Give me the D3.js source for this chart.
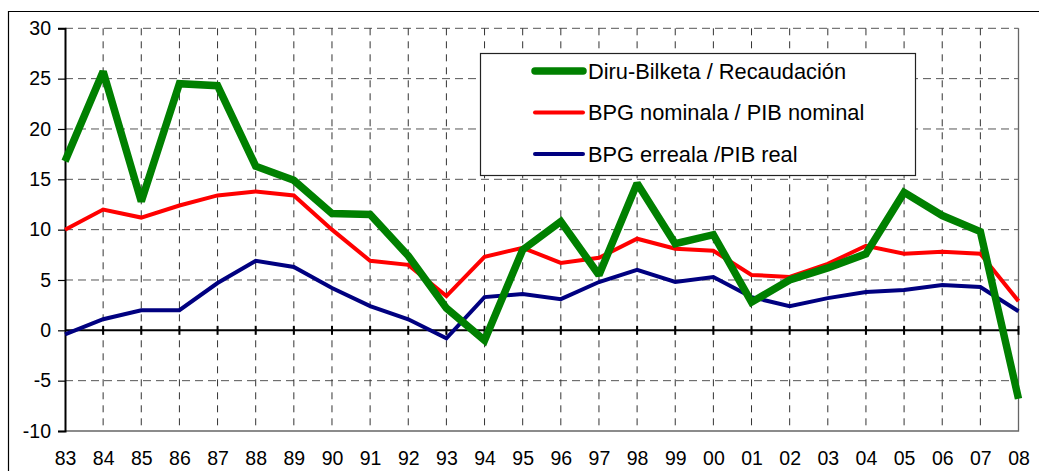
<!DOCTYPE html>
<html>
<head>
<meta charset="utf-8">
<script src="https://cdn.jsdelivr.net/npm/d3@7"></script>
<style>
  html, body { margin: 0; padding: 0; background: #fff; }
  svg { display: block; font-family: Arial, "Liberation Sans", sans-serif; }
</style>
</head>
<body>
<svg id="chart" width="1039" height="471"></svg>
<script>
// Year labels along the x axis
const years = ["83","84","85","86","87","88","89","90","91","92","93","94","95","96","97","98","99","00","01","02","03","04","05","06","07","08"];

// Annual growth rates (%)
const recaudacion = [16.8, 25.7, 12.8, 24.5, 24.3, 16.3, 14.9, 11.6, 11.5, 7.4, 2.2, -1.0, 8.0, 10.8, 5.5, 14.6, 8.6, 9.5, 2.8, 5.0, 6.2, 7.6, 13.7, 11.4, 9.8, -6.8];
const pibNominal  = [10.0, 12.0, 11.2, 12.4, 13.4, 13.8, 13.4, 10.0, 6.9, 6.5, 3.4, 7.3, 8.2, 6.7, 7.2, 9.1, 8.1, 7.9, 5.5, 5.3, 6.6, 8.4, 7.6, 7.8, 7.6, 2.9];
const pibReal     = [-0.4, 1.1, 2.0, 2.0, 4.7, 6.9, 6.3, 4.2, 2.4, 1.1, -0.8, 3.3, 3.6, 3.1, 4.8, 6.0, 4.8, 5.3, 3.3, 2.4, 3.2, 3.8, 4.0, 4.5, 4.3, 1.9];

const yTicks = [30, 25, 20, 15, 10, 5, 0, -5, -10];

const seriesNames = ["Diru-Bilketa / Recaudación", "BPG nominala / PIB nominal", "BPG erreala /PIB real"];

const series = [
  { name: seriesNames[0], values: recaudacion, color: "#008000", width: 7.5 },
  { name: seriesNames[1], values: pibNominal,  color: "#ff0000", width: 4 },
  { name: seriesNames[2], values: pibReal,     color: "#000080", width: 4 }
];

const svg = d3.select("#chart");
const W = 1039, H = 471;
const plot = { left: 65, right: 1018.5, top: 28.3, bottom: 431 };
const labelFont = "Arial, 'Liberation Sans', sans-serif";

const x = d3.scalePoint().domain(years).range([plot.left, plot.right]);
const y = d3.scaleLinear().domain([-10, 30]).range([plot.bottom, plot.top]);

// Outer chart frame (left and top edges visible)
svg.append("path")
  .attr("d", `M8.5,${H} V11.5 H${W}`)
  .attr("fill", "none").attr("stroke", "#000").attr("stroke-width", 1.2);

// Horizontal dashed gridlines
svg.append("g").selectAll("line")
  .data(yTicks.filter(d => d !== 0 && d !== -10))
  .join("line")
  .attr("x1", plot.left).attr("x2", plot.right)
  .attr("y1", d => y(d)).attr("y2", d => y(d))
  .attr("stroke", "#555").attr("stroke-width", 1)
  .attr("stroke-dasharray", "8,5");

// Vertical dashed gridlines
svg.append("g").selectAll("line")
  .data(years.slice(1, -1))
  .join("line")
  .attr("x1", d => x(d)).attr("x2", d => x(d))
  .attr("y1", plot.top).attr("y2", plot.bottom)
  .attr("stroke", "#333").attr("stroke-width", 1)
  .attr("stroke-dasharray", "7,6");

// Plot area right and bottom borders
svg.append("path")
  .attr("d", `M${plot.right},${plot.top} V${plot.bottom} H${plot.left}`)
  .attr("fill", "none").attr("stroke", "#666").attr("stroke-width", 1.3);

// Y axis with ticks on the left (plain hyphen for negatives)
const yAxis = d3.axisLeft(y).tickValues(yTicks).tickSize(7).tickPadding(7).tickFormat(d => String(d));
const gy = svg.append("g").attr("transform", `translate(${plot.left},0)`).call(yAxis);
gy.select(".domain").attr("stroke", "#000").attr("stroke-width", 2);
gy.selectAll(".tick line").attr("stroke", "#000").attr("stroke-width", 1.2);
gy.selectAll(".tick text").attr("font-size", 19.5).attr("fill", "#000")
  .attr("font-family", labelFont);

// Zero line with category ticks crossing it
svg.append("line")
  .attr("x1", plot.left).attr("x2", plot.right)
  .attr("y1", y(0)).attr("y2", y(0))
  .attr("stroke", "#000").attr("stroke-width", 2);
svg.append("g").selectAll("line")
  .data(years.slice(1))
  .join("line")
  .attr("x1", d => x(d)).attr("x2", d => x(d))
  .attr("y1", y(0) - 4.5).attr("y2", y(0) + 4.5)
  .attr("stroke", "#000").attr("stroke-width", 2);

// Category labels below the plot
const xAxis = d3.axisBottom(x).tickSize(0).tickPadding(0);
const gx = svg.append("g").attr("transform", `translate(0,${plot.bottom})`).call(xAxis);
gx.select(".domain").remove();
gx.selectAll(".tick text").attr("font-size", 19.5).attr("fill", "#000")
  .attr("dy", null).attr("y", 34)
  .attr("font-family", labelFont);

// Series lines
const line = d3.line()
  .x((d, i) => x(years[i]))
  .y(d => y(d))
  .curve(d3.curveLinear);

svg.append("g").selectAll("path")
  .data(series.slice().reverse())
  .join("path")
  .attr("d", d => line(d.values))
  .attr("fill", "none")
  .attr("stroke", d => d.color)
  .attr("stroke-width", d => d.width)
  .attr("stroke-linejoin", "miter")
  .attr("stroke-miterlimit", 2);

// Legend
const lg = svg.append("g");
lg.append("rect")
  .attr("x", 480.5).attr("y", 53.5).attr("width", 435).attr("height", 122)
  .attr("fill", "#fff").attr("stroke", "#222").attr("stroke-width", 1.2);
const rows = lg.selectAll("g.row").data(series).join("g")
  .attr("class", "row")
  .attr("transform", (d, i) => `translate(0,${71 + i * 41.5})`);
rows.append("line")
  .attr("x1", 535).attr("x2", 583)
  .attr("stroke", d => d.color)
  .attr("stroke-width", d => d.width)
  .attr("stroke-linecap", "round");
rows.append("text")
  .attr("x", 588).attr("y", 0).attr("dy", "0.36em")
  .attr("font-size", 21.8).attr("fill", "#000")
  .attr("font-family", labelFont)
  .text(d => d.name);
</script>
</body>
</html>
